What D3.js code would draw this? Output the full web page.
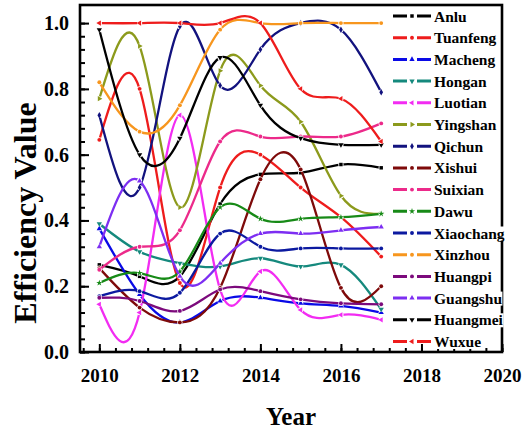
<!DOCTYPE html>
<html>
<head>
<meta charset="utf-8">
<script src="https://cdn.jsdelivr.net/npm/d3@7"></script>
<style>
  body { margin: 0; background: #fff; }
  text { font-family: "Liberation Serif", "Times New Roman", serif; font-weight: bold; }
</style>
</head>
<body>
<div id="chart"></div>
<script>
// data

var years = [2010, 2011, 2012, 2013, 2014, 2015, 2016, 2017];

var anlu      = [0.265, 0.23, 0.23, 0.45, 0.54, 0.545, 0.57, 0.56];
var tuanfeng  = [0.645, 0.80, 0.21, 0.50, 0.60, 0.50, 0.41, 0.29];
var macheng   = [0.375, 0.175, 0.09, 0.155, 0.165, 0.148, 0.14, 0.12];
var hongan    = [0.39, 0.305, 0.27, 0.26, 0.285, 0.26, 0.265, 0.13];
var luotian   = [0.145, 0.12, 0.72, 0.19, 0.245, 0.128, 0.113, 0.098];
var yingshan  = [0.77, 0.93, 0.44, 0.855, 0.81, 0.70, 0.475, 0.42];
var qichun    = [0.72, 0.50, 0.99, 0.81, 0.92, 1.0, 0.98, 0.79];
var xishui    = [0.255, 0.135, 0.09, 0.195, 0.525, 0.555, 0.195, 0.2];
var suixian   = [0.25, 0.32, 0.37, 0.64, 0.655, 0.655, 0.655, 0.695];
var dawu      = [0.21, 0.24, 0.245, 0.44, 0.405, 0.405, 0.41, 0.42];
var xiaochang = [0.17, 0.185, 0.18, 0.36, 0.32, 0.315, 0.315, 0.315];
var xinzhou   = [0.82, 0.67, 0.75, 0.98, 1.0, 1.0, 1.0, 1.0];
var huangpi   = [0.165, 0.155, 0.125, 0.19, 0.185, 0.16, 0.148, 0.145];
var guangshu  = [0.32, 0.52, 0.23, 0.27, 0.36, 0.36, 0.37, 0.38];
var huangmei  = [0.98, 0.60, 0.65, 0.895, 0.75, 0.65, 0.63, 0.63];
var wuxue     = [1.0, 1.0, 1.0, 1.0, 1.0, 0.80, 0.77, 0.64];

var names = ["Anlu", "Tuanfeng", "Macheng", "Hongan", "Luotian", "Yingshan", "Qichun", "Xishui",
             "Suixian", "Dawu", "Xiaochang", "Xinzhou", "Huangpi", "Guangshu", "Huangmei", "Wuxue"];
var values = [anlu, tuanfeng, macheng, hongan, luotian, yingshan, qichun, xishui,
              suixian, dawu, xiaochang, xinzhou, huangpi, guangshu, huangmei, wuxue];

var xTicks = [2010, 2012, 2014, 2016, 2018, 2020];
var yTicks = [0, 0.2, 0.4, 0.6, 0.8, 1.0];

// styles
var colors = ["#000000", "#ee1c1c", "#0a0ae6", "#15897d", "#f22cf2", "#8c9a1c", "#12127e", "#7e0a0a",
              "#ec2a8a", "#178a17", "#0c1aa0", "#f7961e", "#7c0a7c", "#7d2ef2", "#000000", "#ee1c1c"];
var shapes = ["square", "circle", "up", "down", "left", "right", "diamond", "circle",
              "circle", "star", "circle", "circle", "circle", "up", "down", "left"];

// initial settings

var svgWidth = 522;
var svgHeight = 431;

var svg = d3.select("#chart")
  .append("svg")
  .attr("width", svgWidth)
  .attr("height", svgHeight);

var x = d3.scaleLinear().domain([2009.52, 2020]).range([80, 502]);
var y = d3.scaleLinear().domain([0, 1.055]).range([352, 5]);

// marker helper
function marker(g, shape, cx, cy, color) {
  var sym;
  var rot = 0;
  if (shape === "square") sym = d3.symbolSquare;
  else if (shape === "circle") sym = d3.symbolCircle;
  else if (shape === "diamond") sym = d3.symbolDiamond;
  else if (shape === "star") sym = d3.symbolStar;
  else { sym = d3.symbolTriangle; rot = {up: 0, down: 180, left: -90, right: 90}[shape]; }
  g.append("path")
    .attr("d", d3.symbol().type(sym).size(12)())
    .attr("transform", `translate(${cx},${cy}) rotate(${rot})`)
    .attr("fill", color);
}

// lines

var line = d3.line()
  .x((d, i) => x(years[i]))
  .y(d => y(d))
  .curve(d3.curveNatural);

var plot = svg.append("g");

values.forEach(function (vals, k) {
  var g = plot.append("g");
  g.append("path")
    .attr("d", line(vals))
    .attr("fill", "none")
    .attr("stroke", colors[k])
    .attr("stroke-width", 2.3);
  vals.forEach(function (v, i) {
    g.append("circle")
      .attr("cx", x(years[i]))
      .attr("cy", y(v))
      .attr("r", 2.6)
      .attr("fill", "#fff");
    marker(g, shapes[k], x(years[i]), y(v), colors[k]);
  });
});

// axes

svg.append("g")
  .attr("transform", "translate(0,352)")
  .call(d3.axisBottom(x).tickValues(d3.range(2009.6, 2020, 0.4)).tickSize(-4).tickFormat(""))
  .call(g => g.select(".domain").remove());

var xaxis = svg.append("g")
  .attr("transform", "translate(0,352)")
  .call(d3.axisBottom(x).tickValues(xTicks).tickSize(-8).tickPadding(17).tickFormat(d3.format("d")));
xaxis.select(".domain").remove();
xaxis.selectAll("text").attr("font-size", 19).attr("fill", "#000");

svg.append("g")
  .attr("transform", "translate(80,0)")
  .call(d3.axisLeft(y).tickValues(d3.range(0, 1.04, 0.04)).tickSize(-5).tickFormat(""))
  .call(g => g.select(".domain").remove());

var yaxis = svg.append("g")
  .attr("transform", "translate(80,0)")
  .call(d3.axisLeft(y).tickValues(yTicks).tickSize(-9).tickPadding(11).tickFormat(d3.format(".1f")));
yaxis.select(".domain").remove();
yaxis.selectAll("text").attr("font-size", 20).attr("fill", "#000");

svg.selectAll(".tick line").attr("stroke", "#000").attr("stroke-width", 2);

// frame
svg.append("rect")
  .attr("x", 80).attr("y", 5)
  .attr("width", 422).attr("height", 347)
  .attr("fill", "none")
  .attr("stroke", "#000")
  .attr("stroke-width", 2.6);

// axis titles
svg.append("text")
  .attr("x", 291).attr("y", 425)
  .attr("text-anchor", "middle")
  .attr("font-size", 25)
  .text("Year");

svg.append("text")
  .attr("transform", "translate(36,213) rotate(-90)")
  .attr("text-anchor", "middle")
  .attr("font-size", 32)
  .text("Efficiency Value");

// legend
var legend = svg.append("g");
names.forEach(function (name, k) {
  var ly = 16 + k * 21.7;
  var row = legend.append("g");
  row.append("line")
    .attr("x1", 393).attr("x2", 431)
    .attr("y1", ly).attr("y2", ly)
    .attr("stroke", colors[k])
    .attr("stroke-width", 3);
  row.append("rect")
    .attr("x", 407).attr("y", ly - 3)
    .attr("width", 10).attr("height", 6)
    .attr("fill", "#fff");
  marker(row, shapes[k], 412, ly, colors[k]);
  var bg = row.append("rect").attr("fill", "#fff");
  var t = row.append("text")
    .attr("x", 434).attr("y", ly + 5.5)
    .attr("font-size", 15.5)
    .text(name);
  var bb = t.node().getBBox();
  bg.attr("x", bb.x).attr("y", bb.y + 2).attr("width", bb.width).attr("height", bb.height - 3);
});
</script>
</body>
</html>
